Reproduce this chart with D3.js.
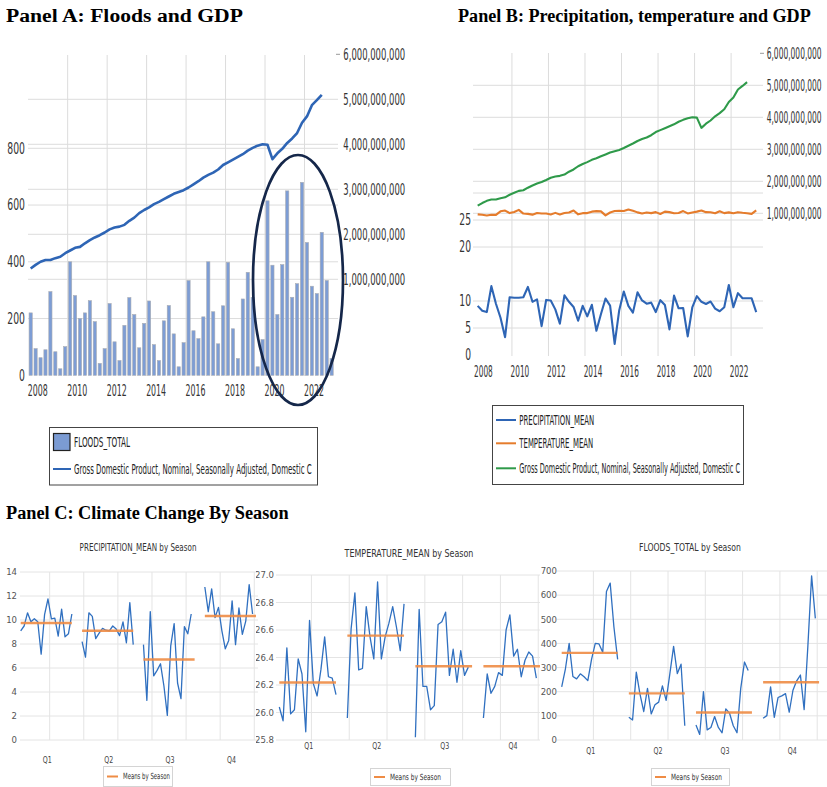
<!DOCTYPE html>
<html>
<head>
<meta charset="utf-8">
<script src="https://cdn.jsdelivr.net/npm/d3@7"></script>
<style>
  html, body { margin: 0; padding: 0; background: #fff; }
  svg { display: block; }
  text { font-family: "Liberation Sans Narrow", "DejaVu Sans Condensed", "Liberation Sans", Arial, sans-serif; }
  .ptitle { font-family: "Liberation Serif", "Times New Roman", serif; font-weight: bold; }
</style>
</head>
<body>
<svg id="chart" width="827" height="787"></svg>
<script>
// ---- data -----------------------------------------------------------
const years = ["2008","2009","2010","2011","2012","2013","2014","2015",
               "2016","2017","2018","2019","2020","2021","2022","2023"];
const quarterNames = ["Q1","Q2","Q3","Q4"];
const yearTicks = ["2008","2010","2012","2014","2016","2018","2020","2022"];

// quarterly totals, 2008Q1 - 2023Q2
const floods = [220, 94, 62, 90, 295, 83, 23, 101, 400, 281, 200, 220,
                263, 189, 42, 94, 253, 118, 52, 176, 274, 214, 97, 183,
                262, 108, 52, 192, 246, 146, 30, 115, 334, 157, 129, 206,
                400, 224, 111, 245, 398, 164, 59, 269, 363, 275, 30, 126,
                615, 388, 214, 390, 650, 275, 323, 680, 468, 314, 288, 504,
                334, 59];

const precipitation = [9.1, 8.2, 7.95, 12.75, 9.5, 6.9, 3.3, 10.7,
                       10.6, 10.6, 10.7, 12.6, 9.85, 10.3, 5.35, 10.2,
                       10.1, 8.45, 5.8, 11.05, 9.85, 8.9, 6.35, 9.1,
                       7.15, 9.3, 4.5, 7.6, 10.45, 9.15, 2.05, 8.3,
                       11.75, 9.1, 7.85, 11.6, 10.1, 9.5, 9.7, 7.95,
                       10.15, 9.25, 4.75, 11.0, 8.65, 8.7, 3.45, 8.8,
                       10.9, 9.85, 9.45, 9.9, 8.6, 8.1, 8.85, 12.95,
                       8.85, 11.45, 10.5, 10.5, 10.5, 7.95];

const temperature = [26.04, 25.96, 25.82, 25.96, 25.94, 26.61, 26.75, 26.28,
                     26.47, 26.87, 26.19, 26.14, 25.99, 26.31, 26.19, 26.19,
                     26.02, 26.32, 26.02, 26.29, 26.39, 26.77, 26.05, 26.27,
                     26.28, 26.55, 26.64, 26.60, 25.86, 26.39, 26.66, 26.71,
                     26.67, 26.95, 26.73, 26.41, 26.21, 26.39, 26.27, 26.46,
                     26.12, 26.55, 26.46, 26.26, 26.31, 26.65, 26.22, 26.38,
                     26.55, 26.77, 26.45, 26.44, 26.26, 26.62, 26.27, 26.41,
                     26.25, 26.45, 26.33, 26.25, 26.13, 26.79];

// nominal GDP, seasonally adjusted, 2008Q1 - 2022Q4
const gdp = [1.24e9, 1.32e9, 1.39e9, 1.43e9, 1.43e9, 1.47e9, 1.50e9, 1.58e9,
             1.64e9, 1.70e9, 1.72e9, 1.80e9, 1.87e9, 1.93e9, 1.98e9, 2.04e9,
             2.11e9, 2.15e9, 2.17e9, 2.21e9, 2.30e9, 2.37e9, 2.47e9, 2.54e9,
             2.60e9, 2.67e9, 2.72e9, 2.78e9, 2.84e9, 2.90e9, 2.94e9, 2.98e9,
             3.04e9, 3.11e9, 3.18e9, 3.26e9, 3.32e9, 3.37e9, 3.44e9, 3.54e9,
             3.60e9, 3.66e9, 3.72e9, 3.78e9, 3.86e9, 3.92e9, 3.97e9, 4.00e9,
             3.99e9, 3.67e9, 3.80e9, 3.90e9, 4.03e9, 4.13e9, 4.25e9, 4.48e9,
             4.62e9, 4.87e9, 4.98e9, 5.10e9];

const floodTicksA = [0, 200, 400, 600, 800];
const gdpTicks = [1e9, 2e9, 3e9, 4e9, 5e9, 6e9];
const climateTicksB = [0, 5, 10, 20, 25];
const climateGridB = [5, 10, 20, 25, 30];
const precipTicks = [0, 2, 4, 6, 8, 10, 12, 14];
const tempTicks = [25.8, 26.0, 26.2, 26.4, 26.6, 26.8, 27.0];
const floodTicksC = [0, 100, 200, 300, 400, 500, 600, 700];

const quarters = [];
years.forEach(y => quarterNames.forEach(q => quarters.push(y + q)));
quarters.length = floods.length;

// ---- helpers ----------------------------------------------------------
const svg = d3.select("#chart");
const GRID = "#dcdcdc";
const TICK = "#333";
const BLUE = "#2e65b5";
const ORANGE = "#e57c2c";
const GREEN = "#2f9a4a";
const comma = d3.format(",");

// condense a text horizontally to a given width (number or function of datum)
function squeeze(sel, w) {
  sel.each(function (d) {
    const t = d3.select(this);
    const target = typeof w === "function" ? w(d) : w;
    const nat = this.getComputedTextLength();
    if (!nat) return;
    const x = +t.attr("x") || 0, y = +t.attr("y") || 0;
    t.attr("x", 0).attr("y", 0)
      .attr("transform", `translate(${x},${y}) scale(${target / nat},1)`);
  });
}

// ---- titles -----------------------------------------------------------
svg.append("text").attr("class", "ptitle").attr("x", 6).attr("y", 22)
  .attr("font-size", 19).text("Panel A: Floods and GDP").call(squeeze, 237);
svg.append("text").attr("class", "ptitle").attr("x", 458).attr("y", 22)
  .attr("font-size", 19).text("Panel B: Precipitation, temperature and GDP").call(squeeze, 353);
svg.append("text").attr("class", "ptitle").attr("x", 6).attr("y", 519)
  .attr("font-size", 19).text("Panel C: Climate Change By Season").call(squeeze, 283);

// ---- Panel A: floods bars + GDP line ---------------------------------
(function panelA() {
  const g = svg.append("g");
  const x = d3.scaleBand().domain(quarters).range([28.2, 334.1])
    .paddingInner(0.35).paddingOuter(0.175);
  const yL = d3.scaleLinear().domain([0, 800]).range([375.3, 148.3]);
  const yR = d3.scaleLinear().domain([0, 6e9]).range([324.3, 54.3]);
  const boundary = yr => x(yr + "Q1") - x.step() * x.paddingInner() / 2;

  // gridlines
  g.selectAll(".hl").data(floodTicksA.slice(1)).join("line")
    .attr("x1", 28).attr("x2", 338).attr("y1", d => yL(d)).attr("y2", d => yL(d))
    .attr("stroke", GRID);
  g.selectAll(".hr").data(gdpTicks.slice(0, 5)).join("line")
    .attr("x1", 28).attr("x2", 338).attr("y1", d => yR(d)).attr("y2", d => yR(d))
    .attr("stroke", GRID);
  g.selectAll(".v").data(yearTicks.slice(1)).join("line")
    .attr("x1", d => boundary(d)).attr("x2", d => boundary(d))
    .attr("y1", 55).attr("y2", 376).attr("stroke", GRID);
  g.append("line").attr("x1", 336).attr("x2", 340)
    .attr("y1", yR(6e9)).attr("y2", yR(6e9)).attr("stroke", "#999");

  // bars
  g.selectAll(".bar").data(floods).join("rect")
    .attr("x", (d, i) => x(quarters[i])).attr("width", x.bandwidth())
    .attr("y", d => yL(d)).attr("height", d => yL(0) - yL(d))
    .attr("fill", "#7d9dd5").attr("stroke", "#a9acb3").attr("stroke-width", 0.6);

  // GDP line
  g.append("path").datum(gdp)
    .attr("d", d3.line().x((d, i) => x(quarters[i]) + x.bandwidth() / 2).y(d => yR(d)))
    .attr("fill", "none").attr("stroke", BLUE).attr("stroke-width", 2.6)
    .attr("stroke-linejoin", "round");

  // axis labels
  g.selectAll(".tl").data(floodTicksA).join("text")
    .attr("x", 25).attr("y", d => yL(d)).attr("dy", "0.36em")
    .attr("text-anchor", "end").attr("font-size", 15).attr("fill", TICK)
    .text(d => d).call(squeeze, d => String(d).length * 5.9);
  g.selectAll(".tr").data(gdpTicks).join("text")
    .attr("x", 343.3).attr("y", d => yR(d)).attr("dy", "0.36em")
    .attr("font-size", 15).attr("fill", TICK)
    .text(d => comma(d)).call(squeeze, 62);
  g.selectAll(".ty").data(yearTicks).join("text")
    .attr("x", d => boundary(d) + 9.5).attr("y", 391).attr("dy", "0.36em")
    .attr("text-anchor", "middle").attr("font-size", 15).attr("fill", TICK)
    .text(d => d).call(squeeze, 20);

  // highlight ring around the recent flood peaks
  g.append("ellipse").attr("cx", 298).attr("cy", 280).attr("rx", 45).attr("ry", 125)
    .attr("fill", "none").attr("stroke", "#15274a").attr("stroke-width", 2.7);

  // legend
  const L = g.append("g");
  L.append("rect").attr("x", 49.5).attr("y", 427.5).attr("width", 268).attr("height", 57.5)
    .attr("fill", "#fff").attr("stroke", "#444");
  L.append("rect").attr("x", 53.5).attr("y", 433.5).attr("width", 16.5).attr("height", 17)
    .attr("fill", "#7b9bd3").attr("stroke", "#222").attr("stroke-width", 1.2);
  L.append("text").attr("x", 74).attr("y", 442).attr("dy", "0.36em").attr("font-size", 14)
    .attr("fill", "#222").text("FLOODS_TOTAL").call(squeeze, 56);
  L.append("line").attr("x1", 53).attr("x2", 71).attr("y1", 469).attr("y2", 469)
    .attr("stroke", BLUE).attr("stroke-width", 2);
  L.append("text").attr("x", 74).attr("y", 469).attr("dy", "0.36em").attr("font-size", 14)
    .attr("fill", "#222").text("Gross Domestic Product, Nominal, Seasonally Adjusted, Domestic C")
    .call(squeeze, 238);
})();

// ---- Panel B: precipitation, temperature, GDP ------------------------
(function panelB() {
  const g = svg.append("g");
  const x = d3.scaleBand().domain(quarters).range([475.4, 758.5]).padding(0);
  const yL = d3.scaleLinear().domain([0, 25]).range([355, 220]);
  const yR = d3.scaleLinear().domain([0, 6e9]).range([245.3, 53.3]);
  const cx = i => x(quarters[i]) + x.bandwidth() / 2;
  const boundary = yr => x(yr + "Q1");

  g.selectAll(".hl").data(climateGridB).join("line")
    .attr("x1", 473).attr("x2", 763).attr("y1", d => yL(d)).attr("y2", d => yL(d))
    .attr("stroke", GRID);
  g.selectAll(".hr").data(gdpTicks.slice(0, 5)).join("line")
    .attr("x1", 473).attr("x2", 763).attr("y1", d => yR(d)).attr("y2", d => yR(d))
    .attr("stroke", GRID);
  g.selectAll(".v").data(yearTicks.slice(1)).join("line")
    .attr("x1", d => boundary(d)).attr("x2", d => boundary(d))
    .attr("y1", 53).attr("y2", 356).attr("stroke", GRID);
  g.append("line").attr("x1", 760).attr("x2", 764)
    .attr("y1", yR(6e9)).attr("y2", yR(6e9)).attr("stroke", "#999");

  const lineL = d3.line().x((d, i) => cx(i)).y(d => yL(d));
  const lineR = d3.line().x((d, i) => cx(i)).y(d => yR(d));
  g.append("path").datum(gdp).attr("d", lineR).attr("fill", "none")
    .attr("stroke", GREEN).attr("stroke-width", 2.1).attr("stroke-linejoin", "round");
  g.append("path").datum(temperature).attr("d", lineL).attr("fill", "none")
    .attr("stroke", ORANGE).attr("stroke-width", 2.1).attr("stroke-linejoin", "round");
  g.append("path").datum(precipitation).attr("d", lineL).attr("fill", "none")
    .attr("stroke", BLUE).attr("stroke-width", 2.1).attr("stroke-linejoin", "round");

  g.selectAll(".tl").data(climateTicksB).join("text")
    .attr("x", 471).attr("y", d => yL(d)).attr("dy", "0.3em")
    .attr("text-anchor", "end").attr("font-size", 15).attr("fill", TICK)
    .text(d => d).call(squeeze, d => String(d).length * 5.85);
  g.selectAll(".tr").data(gdpTicks).join("text")
    .attr("x", 766.7).attr("y", d => yR(d)).attr("dy", "0.36em")
    .attr("font-size", 15).attr("fill", TICK)
    .text(d => comma(d)).call(squeeze, 55);
  g.selectAll(".ty").data(yearTicks).join("text")
    .attr("x", d => boundary(d) + 8).attr("y", 371.7).attr("dy", "0.36em")
    .attr("text-anchor", "middle").attr("font-size", 15).attr("fill", TICK)
    .text(d => d).call(squeeze, 18.7);

  const L = g.append("g");
  L.append("rect").attr("x", 492.5).attr("y", 405.5).attr("width", 251).attr("height", 79)
    .attr("fill", "#fff").attr("stroke", "#444");
  const items = [
    { name: "PRECIPITATION_MEAN", color: BLUE, y: 420, w: 75 },
    { name: "TEMPERATURE_MEAN", color: ORANGE, y: 443.3, w: 74 },
    { name: "Gross Domestic Product, Nominal, Seasonally Adjusted, Domestic C", color: GREEN, y: 468.3, w: 221 }
  ];
  items.forEach(it => {
    L.append("line").attr("x1", 496).attr("x2", 516).attr("y1", it.y).attr("y2", it.y)
      .attr("stroke", it.color).attr("stroke-width", 2);
    L.append("text").attr("x", 519.3).attr("y", it.y).attr("dy", "0.36em")
      .attr("font-size", 14).attr("fill", "#222").text(it.name).call(squeeze, it.w);
  });
})();

// ---- Panel C: seasonal panels ---------------------------------------
const defs = svg.append("defs");
function seasonPanel(cfg) {
  defs.append("clipPath").attr("id", cfg.id).append("rect")
    .attr("x", cfg.clip[0]).attr("y", 530).attr("width", cfg.clip[1] - cfg.clip[0]).attr("height", 257);
  const g = svg.append("g").attr("clip-path", `url(#${cfg.id})`);
  const y = d3.scaleLinear().domain(cfg.yDomain).range(cfg.yRange);
  const x = d3.scaleLinear().domain([0, 1]).range([cfg.x0, cfg.x0 + cfg.slot]);
  const top = cfg.yRange[1], bottom = cfg.yRange[0];

  g.selectAll(".h").data(cfg.ticks).join("line")
    .attr("x1", cfg.gridX[0]).attr("x2", cfg.gridX[1])
    .attr("y1", d => y(d)).attr("y2", d => y(d)).attr("stroke", "#e4e4e4");
  g.selectAll(".v").data(d3.range(7)).join("line")
    .attr("x1", k => x(8.5 + 10 * k)).attr("x2", k => x(8.5 + 10 * k))
    .attr("y1", top).attr("y2", bottom).attr("stroke", "#e4e4e4");

  g.selectAll(".t").data(cfg.ticks).join("text")
    .attr("x", cfg.tickX).attr("y", d => y(d)).attr("dy", "0.35em")
    .attr("text-anchor", "end").attr("font-size", 9.5).attr("fill", "#555")
    .text(cfg.fmt);

  quarterNames.forEach((qn, q) => {
    const vals = cfg.series.filter((d, i) => i % 4 === q);
    const off = q * 18;
    g.append("path").datum(vals)
      .attr("d", d3.line().x((d, i) => x(off + i)).y(d => y(d)))
      .attr("fill", "none").attr("stroke", "#3070c0").attr("stroke-width", 1.3)
      .attr("stroke-linejoin", "round");
    const m = d3.mean(vals);
    g.append("line").attr("x1", x(off)).attr("x2", x(off + 15))
      .attr("y1", y(m)).attr("y2", y(m))
      .attr("stroke", "#ef8c45").attr("stroke-width", 2.4).attr("opacity", 0.9);
    g.append("text").attr("x", x(off + 7.8)).attr("y", cfg.qY).attr("dy", "0.35em")
      .attr("text-anchor", "middle").attr("font-size", 9.5).attr("fill", "#444").text(qn)
      .call(squeeze, 9);
  });

  g.append("text").attr("x", cfg.titleX).attr("y", cfg.titleY).attr("dy", "0.35em")
    .attr("text-anchor", "middle").attr("font-size", 10.5).attr("fill", "#333")
    .text(cfg.title).call(squeeze, cfg.titleW);

  const lg = cfg.legend;
  g.append("rect").attr("x", lg.x + 0.5).attr("y", lg.y + 0.5).attr("width", lg.w).attr("height", lg.h)
    .attr("fill", "#fff").attr("stroke", "#d4d4d4");
  g.append("line").attr("x1", lg.x + 4).attr("x2", lg.x + 15).attr("y1", lg.y + lg.h / 2 + 0.5)
    .attr("y2", lg.y + lg.h / 2 + 0.5).attr("stroke", "#ef8c45").attr("stroke-width", 2);
  g.append("text").attr("x", lg.x + 20).attr("y", lg.y + lg.h / 2 + 0.5).attr("dy", "0.35em")
    .attr("font-size", 8.5).attr("fill", "#333").text("Means by Season").call(squeeze, lg.tw);
}

seasonPanel({
  id: "clipPrecip", clip: [0, 258], series: precipitation,
  title: "PRECIPITATION_MEAN by Season", titleX: 138, titleY: 547, titleW: 117,
  yDomain: [0, 14], yRange: [740, 572], ticks: precipTicks, fmt: d => d, tickX: 17,
  gridX: [20, 258], x0: 20.7, slot: 3.41, qY: 760,
  legend: { x: 103, y: 766, w: 69, h: 20, tw: 47 }
});
seasonPanel({
  id: "clipTemp", clip: [256, 540], series: temperature,
  title: "TEMPERATURE_MEAN by Season", titleX: 409, titleY: 553, titleW: 129,
  yDomain: [25.8, 27.0], yRange: [740, 575], ticks: tempTicks, fmt: d3.format(".1f"), tickX: 274,
  gridX: [276, 540], x0: 279.3, slot: 3.78, qY: 746,
  legend: { x: 370, y: 768, w: 80, h: 17, tw: 51 }
});
seasonPanel({
  id: "clipFloods", clip: [540, 827], series: floods,
  title: "FLOODS_TOTAL by Season", titleX: 690, titleY: 547, titleW: 102,
  yDomain: [0, 700], yRange: [740, 571], ticks: floodTicksC, fmt: d => d, tickX: 557,
  gridX: [557, 827], x0: 561.7, slot: 3.73, qY: 751,
  legend: { x: 651, y: 768, w: 78, h: 17, tw: 51 }
});
</script>
</body>
</html>
